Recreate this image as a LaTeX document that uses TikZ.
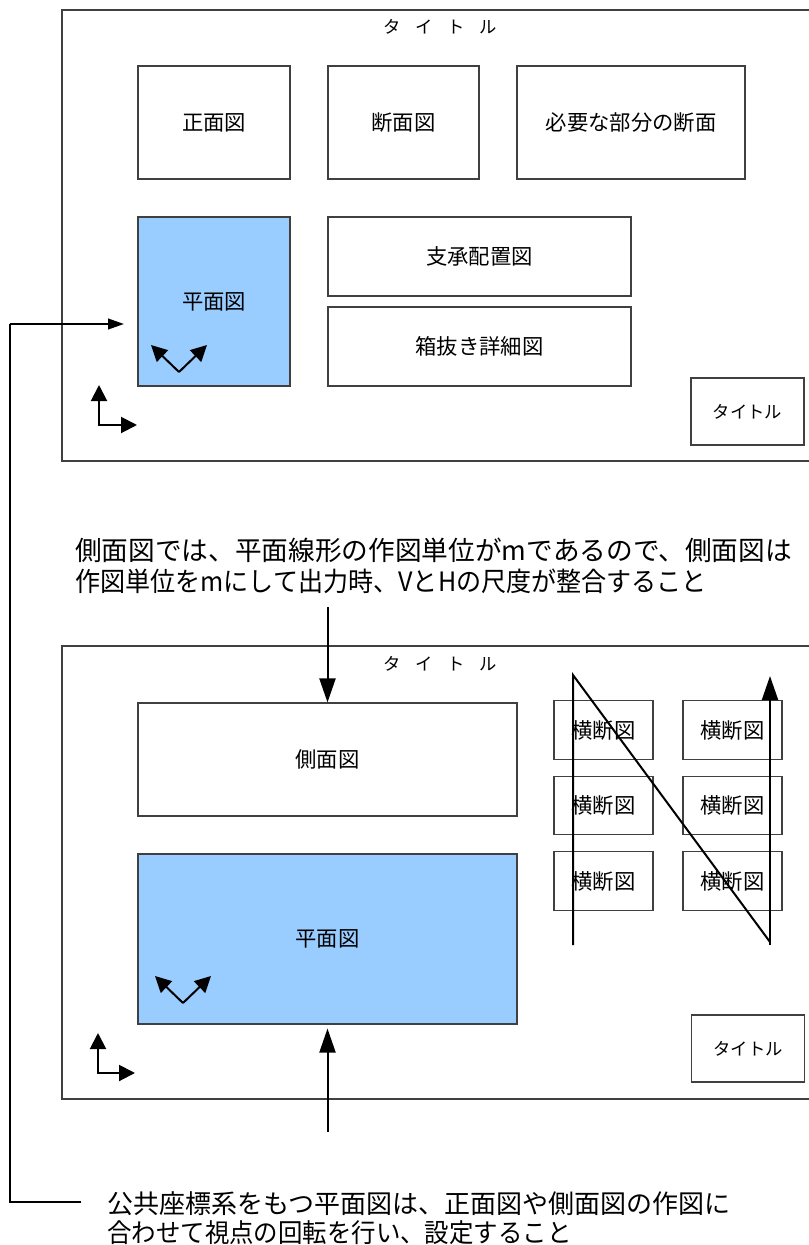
\documentclass[tikz,border=0pt]{standalone}
\usepackage{fontspec}
\setmainfont{Noto Sans CJK JP}
\newfontfamily\narrowjp[FakeStretch=0.94]{Noto Sans CJK JP}
\usetikzlibrary{arrows.meta}

\definecolor{planblue}{HTML}{99CCFF}
\definecolor{linegray}{HTML}{404040}

\tikzset{
    box/.style={draw=linegray, line width=0.8pt, inner sep=0pt,
        font=\fontsize{16}{19}\selectfont},
    planbox/.style={box, fill=planblue},
    secbox/.style={box, minimum width=74.25pt, minimum height=43.75pt},
    titlebox/.style={box, minimum width=84.75pt, minimum height=50.25pt,
        font=\fontsize{13}{16}\selectfont},
    sheettitle/.style={font=\fontsize{13}{15}\selectfont},
    frameline/.style={draw=linegray, line width=0.8pt},
    arr/.style={line width=1.5pt, -{Triangle[length=18pt,width=12pt]}},
    thinarr/.style={line width=1.5pt, -{Triangle[length=12pt,width=8pt]}},
    axis/.style={line width=1.5pt, -{Triangle[length=12pt,width=12pt]}},
    note/.style={inner sep=0pt, align=left, anchor=base west}
}

\newcommand{\spacedtitle}{タ\hspace{0.85em}イ\hspace{0.85em}ト\hspace{0.85em}ル}

\begin{document}
\begin{tikzpicture}[x=0.75pt, y=-0.75pt]
    \useasboundingbox (0,0) rectangle (809,1245);

    % upper sheet
    \draw [frameline] (809,10) -- (62,10) -- (62,461) -- (809,461);
    \node [sheettitle] (title1) at (440,27) {\spacedtitle};

    \node [box, minimum width=114pt, minimum height=84.75pt] (front) at (214,122.5) {正面図};
    \node [box, minimum width=113.25pt, minimum height=84.75pt] (cross) at (403.5,122.5) {断面図};
    \node [box, minimum width=171pt, minimum height=84.75pt] (part) at (631,122.5) {必要な部分の断面};
    \node [planbox, minimum width=114pt, minimum height=126.75pt] (plan1) at (214,301.5) {平面図};
    \node [box, minimum width=227.25pt, minimum height=59.25pt] (bearing) at (479.5,256.5) {支承配置図};
    \node [box, minimum width=227.25pt, minimum height=59.25pt] (boxout) at (479.5,346.5) {箱抜き詳細図};
    \node [titlebox] (tblock1) at (747.5,411.5) {タイトル};

    \draw [axis] (179,372) -- (151,345);
    \draw [axis] (179,372) -- (207,345);
    \draw [axis] (99,425) -- (99,385);
    \draw [axis] (98,425) -- (137,425);

    % note on side view
    \node [note, font=\fontsize{20}{23.25}\selectfont] (note1) at (75,591)
        {側面図では、平面線形の作図単位がmであるので、側面図は\\{\narrowjp 作図単位をmにして出力時、VとHの尺度が整合すること}};

    % lower sheet
    \draw [frameline] (809,646) -- (62,646) -- (62,1099) -- (809,1099);
    \node [sheettitle] (title2) at (440,664) {\spacedtitle};

    \node [box, minimum width=284.25pt, minimum height=84.75pt] (side) at (327.5,759.5) {側面図};
    \node [planbox, minimum width=284.25pt, minimum height=127.5pt] (plan2) at (327.5,939) {平面図};

    \node [secbox] (sec11) at (603.5,730) {横断図};
    \node [secbox] (sec12) at (603.5,805.5) {横断図};
    \node [secbox] (sec13) at (603.5,881) {横断図};
    \node [secbox] (sec21) at (732.5,730) {横断図};
    \node [secbox] (sec22) at (732.5,805.5) {横断図};
    \node [secbox] (sec23) at (732.5,881) {横断図};
    \node [titlebox] (tblock2) at (748,1048.5) {タイトル};

    \draw [line width=1.5pt] (573,945) -- (573,675) -- (770,942);
    \draw [arr] (770,945) -- (770,676);

    \draw [axis] (183,1003) -- (155,976);
    \draw [axis] (183,1003) -- (211,976);
    \draw [axis] (98,1073) -- (98,1033);
    \draw [axis] (97,1073) -- (135,1073);

    % note on plan view
    \node [note, font=\fontsize{19.5}{21.75}\selectfont] (note2) at (107,1242)
        {公共座標系をもつ平面図は、正面図や側面図の作図に\\{\narrowjp 合わせて視点の回転を行い、設定すること}};

    \coordinate (lead) at (81,1202);
    \coordinate (tip) at (124,324);

    \draw [arr] (327.5,607) -- (side.north);
    \draw [arr] (327.5,1132) -- ([yshift=-3]plan2.south);
    \draw [line width=0.8pt] (lead) -- (10,1202) -- (10,324);
    \draw [thinarr] (9.5,324) -- (tip);
\end{tikzpicture}
\end{document}
